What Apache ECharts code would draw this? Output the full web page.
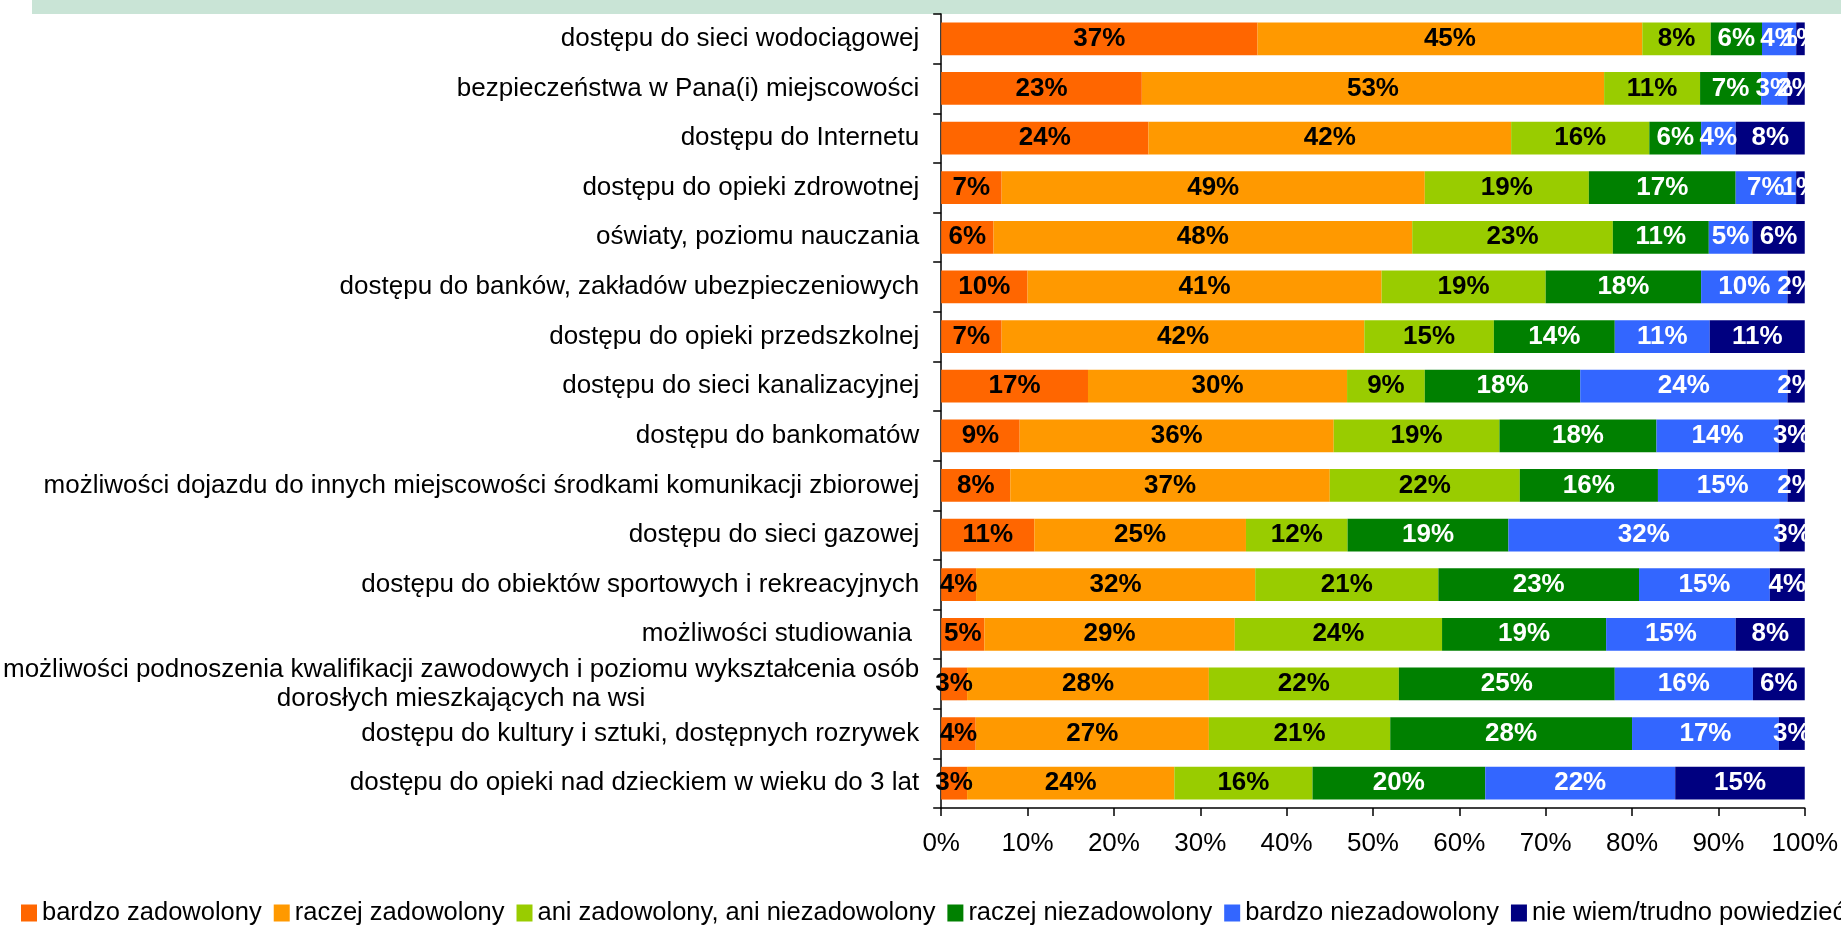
<!DOCTYPE html>
<html>
<head>
<meta charset="utf-8">
<script src="https://cdn.jsdelivr.net/npm/echarts@6/dist/echarts.min.js"></script>
<style>
html,body{margin:0;padding:0;background:#fff;}
#chart{width:1841px;height:928px;}
</style>
</head>
<body>
<div id="chart"></div>
<script>
var categories = [
  'dostępu do sieci wodociągowej',
  'bezpieczeństwa w Pana(i) miejscowości',
  'dostępu do Internetu',
  'dostępu do opieki zdrowotnej',
  'oświaty, poziomu nauczania',
  'dostępu do banków, zakładów ubezpieczeniowych',
  'dostępu do opieki przedszkolnej',
  'dostępu do sieci kanalizacyjnej',
  'dostępu do bankomatów',
  'możliwości dojazdu do innych miejscowości środkami komunikacji zbiorowej',
  'dostępu do sieci gazowej',
  'dostępu do obiektów sportowych i rekreacyjnych',
  'możliwości studiowania ',
  'możliwości podnoszenia kwalifikacji zawodowych i poziomu wykształcenia osób\ndorosłych mieszkających na wsi',
  'dostępu do kultury i sztuki, dostępnych rozrywek',
  'dostępu do opieki nad dzieckiem w wieku do 3 lat'
];
var seriesNames = ['bardzo zadowolony', 'raczej zadowolony', 'ani zadowolony, ani niezadowolony', 'raczej niezadowolony', 'bardzo niezadowolony', 'nie wiem/trudno powiedzieć'];
var bardzoZadowolony    = [37, 23, 24, 7, 6, 10, 7, 17, 9, 8, 11, 4, 5, 3, 4, 3];
var raczejZadowolony    = [45, 53, 42, 49, 48, 41, 42, 30, 36, 37, 25, 32, 29, 28, 27, 24];
var aniAni              = [8, 11, 16, 19, 23, 19, 15, 9, 19, 22, 12, 21, 24, 22, 21, 16];
var raczejNiezadowolony = [6, 7, 6, 17, 11, 18, 14, 18, 18, 16, 19, 23, 19, 25, 28, 20];
var bardzoNiezadowolony = [4, 3, 4, 7, 5, 10, 11, 24, 14, 15, 32, 15, 15, 16, 17, 22];
var nieWiem             = [1, 2, 8, 1, 6, 2, 11, 2, 3, 2, 3, 4, 8, 6, 3, 15];
var xTicks = [0, 10, 20, 30, 40, 50, 60, 70, 80, 90, 100];

var colors = ['#FF6600', '#FF9900', '#99CC00', '#008000', '#3366FF', '#000080'];
var labelColors = ['#000', '#000', '#000', '#fff', '#fff', '#fff'];
var raw = [bardzoZadowolony, raczejZadowolony, aniAni, raczejNiezadowolony, bardzoNiezadowolony, nieWiem];

// 100% stacked: normalise each category to its total, as the original chart does
var totals = categories.map(function (c, i) {
  return raw.reduce(function (s, arr) { return s + arr[i]; }, 0);
});

var FONT = '"Liberation Sans", Arial, sans-serif';
var FS = 26;

var series = raw.map(function (arr, si) {
  return {
    name: seriesNames[si],
    type: 'bar',
    stack: 'total',
    barCategoryGap: '34%',
    itemStyle: { color: colors[si] },
    label: {
      show: true,
      position: 'inside',
      color: labelColors[si],
      fontFamily: FONT,
      fontWeight: 'bold',
      fontSize: FS,
      formatter: function (p) { return raw[si][p.dataIndex] + '%'; }
    },
    emphasis: { disabled: true },
    data: arr.map(function (v, i) { return v / totals[i] * 100; })
  };
});

var chart = echarts.init(document.getElementById('chart'), null, { renderer: 'canvas' });
chart.setOption({
  animation: false,
  backgroundColor: '#fff',
  graphic: [{
    type: 'rect',
    shape: { x: 32, y: 0, width: 1841 - 32, height: 14 },
    style: { fill: '#C9E4D6' },
    silent: true
  }],
  grid: { left: 939, right: 35, top: 14, bottom: 120, containLabel: false },
  legend: {
    left: 21,
    top: 900,
    padding: 0,
    width: 5000,
    itemWidth: 16,
    itemHeight: 17,
    itemGap: 12,
    icon: 'rect',
    textStyle: { fontFamily: FONT, fontSize: 25.5, color: '#000' },
    data: seriesNames
  },
  xAxis: {
    type: 'value',
    min: xTicks[0],
    max: xTicks[xTicks.length - 1],
    interval: 10,
    axisLine: { show: true, lineStyle: { color: '#000', width: 1.5 } },
    axisTick: { show: true, length: 8, lineStyle: { color: '#000', width: 1.5 } },
    splitLine: { show: false },
    axisLabel: {
      margin: 23,
      fontFamily: FONT,
      fontSize: FS,
      color: '#000',
      formatter: '{value}%'
    }
  },
  yAxis: {
    type: 'category',
    inverse: true,
    data: categories,
    axisLine: { show: true, lineStyle: { color: '#000', width: 1.5 } },
    axisTick: { show: true, length: 8, lineStyle: { color: '#000', width: 1.5 } },
    axisLabel: {
      margin: 22,
      align: 'right',
      fontFamily: FONT,
      fontSize: FS,
      color: '#000',
      formatter: function (v) {
        return v.split('\n').map(function (l) { return '{c|' + l + '}'; }).join('\n');
      },
      rich: {
        c: { align: 'center', fontFamily: FONT, fontSize: FS, lineHeight: 29, color: '#000' }
      }
    }
  },
  series: series
});
</script>
</body>
</html>
